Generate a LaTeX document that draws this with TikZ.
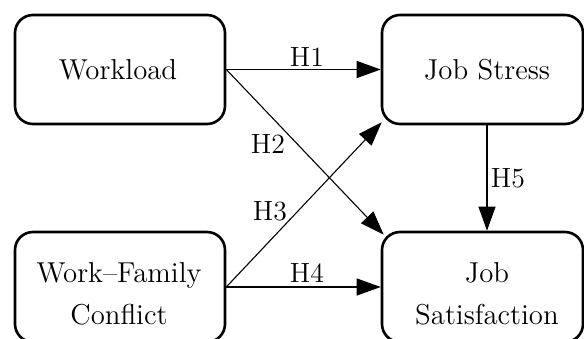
\documentclass[tikz,border=0pt]{standalone}
\usetikzlibrary{arrows.meta}
\begin{document}
\begin{tikzpicture}[x=0.5pt,y=-0.5pt,
  box/.style={draw, line width=1.3pt, rounded corners=9pt, inner sep=0pt},
  txt/.style={align=center, inner sep=0pt, font=\fontsize{14.4pt}{21pt}\selectfont},
  lbl/.style={inner sep=0pt, font=\fontsize{13.9pt}{16pt}\selectfont},
  conn/.style={line width=0.55pt, -{Triangle[length=12pt,width=8.5pt]}}]
\useasboundingbox (0,0) rectangle (584,338);
\clip (0,0) rectangle (584,338);
% boxes
\node[box, minimum width=105pt, minimum height=54.5pt] (wl) at (120,69.5) {};
\node[box, minimum width=100.5pt, minimum height=54.5pt] (js) at (482.5,69.5) {};
\node[box, minimum width=105pt, minimum height=55pt] (wf) at (120,287) {};
\node[box, minimum width=100.5pt, minimum height=55pt] (jsat) at (482.5,287) {};
% texts
\node[txt] (wlT) at (118,70) {Workload};
\node[txt] (jsT) at (487,70) {Job Stress};
\node[txt] (wfT) at (119,294) {Work--Family\\Conflict};
\node[txt] (jsatT) at (487,294) {Job\\Satisfaction};
% connectors
\draw[conn] (wl.east) -- (js.west);
\draw[conn] (wl.east) -- ([shift={(1.5pt,-2pt)}]jsat.north west);
\draw[conn] (wf.east) -- ([shift={(0.5pt,1.5pt)}]js.south west);
\draw[conn] (wf.east) -- (jsat.west);
\draw[conn] (js.south -| jsT.center) -- (jsat.north -| jsT.center);
% labels
\node[lbl] (h1) at (307,57.5) {H1};
\node[lbl] (h2) at (268,144.5) {H2};
\node[lbl] (h3) at (270,211) {H3};
\node[lbl] (h4) at (307,273) {H4};
\node[lbl] (h5) at (508,178) {H5};
\end{tikzpicture}
\end{document}
